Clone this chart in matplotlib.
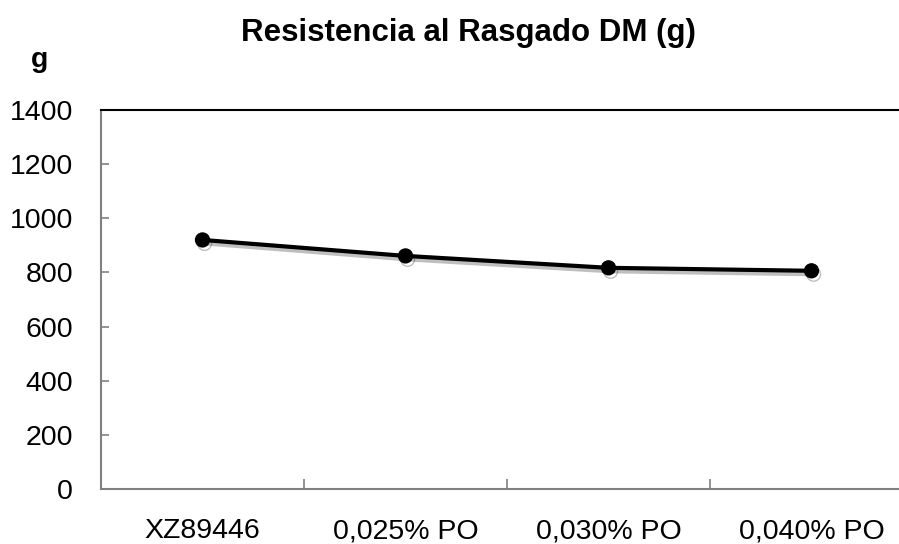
import numpy as np
import matplotlib.pyplot as plt
import matplotlib.patheffects as pe

plt.rcParams["font.family"] = ["Liberation Sans", "DejaVu Sans"]

# Data
categories = ["XZ89446", "0,025% PO", "0,030% PO", "0,040% PO"]
values = [920, 861, 817, 806]
y_ticks = [0, 200, 400, 600, 800, 1000, 1200, 1400]

fig = plt.figure(figsize=(8.99, 5.44), dpi=100)
ax = fig.add_axes([101 / 899, 1 - 489 / 544, 812 / 899, 379 / 544])

x = np.arange(len(categories))
ax.plot(x, values, color="black", lw=3, marker="o", ms=10,
        path_effects=[pe.SimpleLineShadow(offset=(1.5, -2.5), alpha=0.25),
                      pe.Normal()])

ax.set_xlim(-0.5, len(categories) - 0.5)
ax.set_ylim(0, 1400)
ax.set_yticks(y_ticks)
ax.set_xticks(x)
ax.set_xticklabels(categories)
# category boundary ticks
ax.set_xticks(np.arange(0.5, len(categories) - 0.5, 1), minor=True)
ax.tick_params(axis="x", which="major", length=0, pad=21, labelsize=20.5)
ax.tick_params(axis="x", which="minor", direction="in", length=7,
               color="#808080", width=1.2)
ax.tick_params(axis="y", direction="in", length=6, color="#808080",
               width=1.2, pad=20, labelsize=20.5)

for s in ["left", "bottom"]:
    ax.spines[s].set_color("#808080")
    ax.spines[s].set_linewidth(1.5)
ax.spines["right"].set_visible(False)
ax.spines["top"].set_color("black")
ax.spines["top"].set_linewidth(1.5)

fig.text(468 / 899, 1 - 41 / 544, "Resistencia al Rasgado DM (g)",
         fontsize=22.5, fontweight="bold", ha="center", va="baseline")
fig.text(40 / 899, 1 - 67 / 544, "g", fontsize=20.5, fontweight="bold",
         ha="center", va="baseline")

fig.savefig("out.png", dpi=100)
